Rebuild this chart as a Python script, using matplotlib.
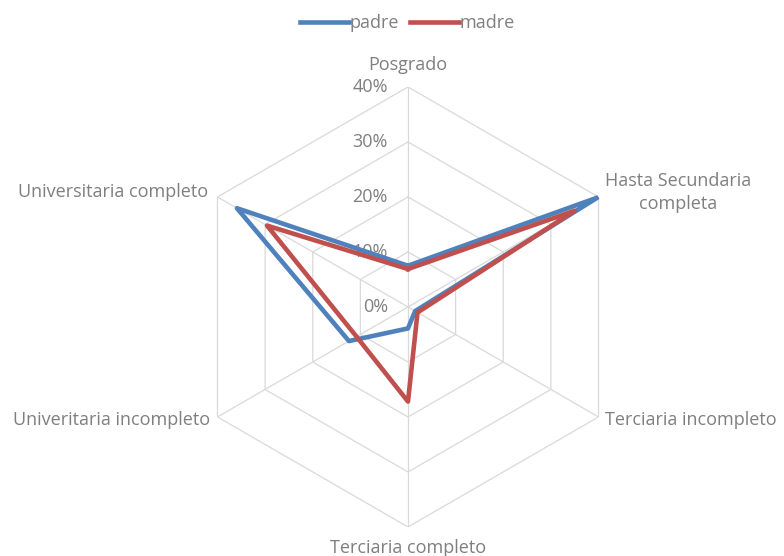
import numpy as np
import matplotlib.pyplot as plt

categories = ["Posgrado", "Hasta Secundaria\ncompleta", "Terciaria incompleto",
              "Terciaria completo", "Univeritaria incompleto", "Universitaria completo"]
padre = [0.075, 0.398, 0.015, 0.039, 0.124, 0.359]
madre = [0.069, 0.350, 0.020, 0.172, 0.108, 0.296]
levels = [0.0, 0.1, 0.2, 0.3, 0.4]
level_labels = ["0%", "10%", "20%", "30%", "40%"]

plt.rcParams['font.family'] = ['Open Sans', 'DejaVu Sans']
gray = "#7f7f7f"

fig = plt.figure(figsize=(7.84, 5.56), dpi=100)
ax = fig.add_axes([0.2398, 0.0522, 0.5612, 0.7914], projection='polar')
ax.set_theta_offset(np.pi / 2)
ax.set_theta_direction(-1)
ax.set_ylim(0, 0.4)
ax.axis('off')

n = len(categories)
theta = np.linspace(0, 2 * np.pi, n, endpoint=False)
theta_c = np.append(theta, theta[0])

# hexagon grid + spokes
for lv in levels[1:]:
    ax.plot(theta_c, [lv] * (n + 1), color="#d9d9d9", lw=0.9, zorder=1)
for t in theta:
    ax.plot([t, t], [0, 0.4], color="#d9d9d9", lw=0.9, zorder=1)

# radial tick labels
for lv, lab in zip(levels, level_labels):
    ax.annotate(lab, xy=(0, lv), xytext=(-14.5, 0), textcoords='offset points',
                ha='right', va='center', color=gray, fontsize=13, zorder=2)

ax.plot(theta_c, padre + padre[:1], color="#4f81bd", lw=3.3, label="padre", zorder=3)
ax.plot(theta_c, madre + madre[:1], color="#c0504d", lw=3.3, label="madre", zorder=4)

# category labels
offsets = [(0, 16, 'center'), (5, 3.5, 'left'), (5, -2, 'left'),
           (0, -15.5, 'center'), (-5, -2, 'right'), (-6.5, 3.5, 'right')]
for t, lab, (dx, dy, ha) in zip(theta, categories, offsets):
    ax.annotate(lab, xy=(t, 0.4), xytext=(dx, dy), textcoords='offset points',
                ha=ha, va='center', multialignment='center', linespacing=1.35,
                color=gray, fontsize=13)

fig.legend(loc='upper center', bbox_to_anchor=(0.52, 1.004), ncol=2, frameon=False,
           handlelength=2.7, handletextpad=0.05, columnspacing=0.6,
           fontsize=13, labelcolor=gray)

fig.savefig("out.png", dpi=100)
